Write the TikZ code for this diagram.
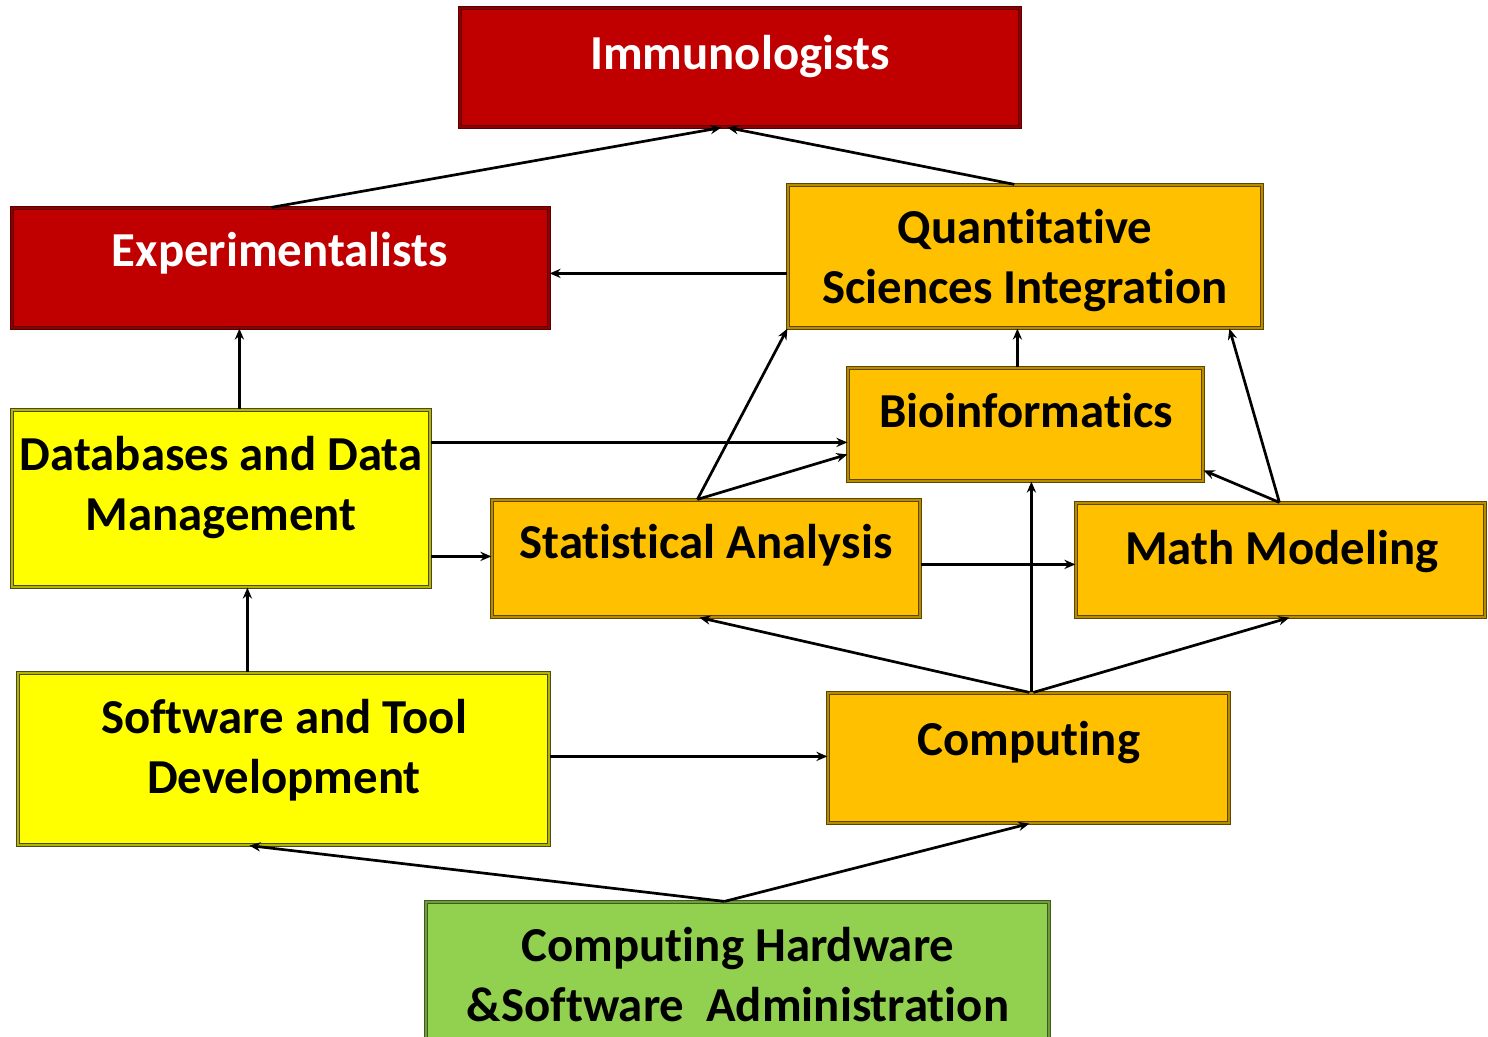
\documentclass[tikz,border=0pt]{standalone}
\usepackage{fontspec}
\setmainfont[Ligatures=NoCommon]{Carlito}
\usetikzlibrary{arrows.meta,calc,fit}

\definecolor{redfill}{HTML}{C00000}
\definecolor{redline}{HTML}{5A0000}
\definecolor{redstrip}{HTML}{8E0000}
\definecolor{orfill}{HTML}{FFC000}
\definecolor{orline}{HTML}{5C4600}
\definecolor{orstrip}{HTML}{B88A00}
\definecolor{yefill}{HTML}{FFFF00}
\definecolor{yeline}{HTML}{4A4A20}
\definecolor{yestrip}{HTML}{B5B500}
\definecolor{grfill}{HTML}{92D050}
\definecolor{grline}{HTML}{3E5A20}
\definecolor{grstrip}{HTML}{6E9E3C}

\tikzset{
  box/.style={inner sep=0pt, line width=0.6pt, double distance=1.2pt},
  redbox/.style={box, fill=redfill, draw=redline, double=redstrip},
  orbox/.style={box, fill=orfill, draw=orline, double=orstrip},
  yebox/.style={box, fill=yefill, draw=yeline, double=yestrip},
  grbox/.style={box, fill=grfill, draw=grline, double=grstrip},
  lbl/.style={font=\bfseries\fontsize{24.4}{30}\selectfont, align=center, anchor=base, inner sep=0pt},
  wlbl/.style={lbl, text=white},
  link/.style={line width=1.35pt, -{Stealth[length=5.5pt,width=4.6pt]}},
}

\begin{document}
\begin{tikzpicture}[x=0.5pt, y=-0.5pt]
\useasboundingbox (0,0) rectangle (1488,1037);

% boxes
\node[redbox, fit={(460,8) (1020,127)}] (imm) {};
\node[redbox, fit={(12,208) (549,328)}] (exp) {};
\node[orbox, fit={(788,185) (1262,328)}] (qsi) {};
\node[orbox, fit={(848,368) (1203,481)}] (bio) {};
\node[yebox, fit={(12,410) (430,587)}] (db) {};
\node[orbox, fit={(492,500) (920,617)}] (stat) {};
\node[orbox, fit={(1076,503) (1485,617)}] (math) {};
\node[yebox, fit={(18,673) (549,845)}] (soft) {};
\node[orbox, fit={(828,693) (1229,823)}] (comp) {};
\node[grbox, fit={(426,902) (1049,1060)}] (hw) {};

% labels (anchor at the baseline of the last line)
\node[wlbl] (immT) at (740,70) {Immunologists};
\node[wlbl] (expT) at (280,267) {Experimentalists};
\node[lbl] (qsiT) at (1025,304) {Quantitative\\Sciences Integration};
\node[lbl] (bioT) at (1026,428) {Bioinformatics};
\node[lbl] (dbT) at (221,530) {Databases and Data\\Management};
\node[lbl] (statT) at (706,558) {Statistical Analysis};
\node[lbl] (mathT) at (1282,564) {Math Modeling};
\node[lbl] (softT) at (284,793) {Software and Tool\\Development};
\node[lbl] (compT) at (1029,755) {Computing};
\node[lbl] (hwT) at (738,1021) {Computing Hardware\\\&Software~~Administration};

% connectors
\draw[link] ($(exp.north west)+(260,0)$) -- ($(imm.south west)+(262,0)$);
\draw[link] ($(qsi.north west)+(227,0)$) -- ($(imm.south west)+(268,0)$);
\draw[link] ($(qsi.north west)+(0,89)$) -- ($(exp.north east)+(0,66)$);
\draw[link] ($(db.north west)+(228,0)$) -- ($(exp.south west)+(228,0)$);
\draw[link] ($(db.north east)+(0,33)$) -- ($(bio.north west)+(0,75)$);
\draw[link] ($(db.north east)+(0,147)$) -- ($(stat.north west)+(0,57)$);
\draw[link] ($(soft.north west)+(230,0)$) -- ($(db.south west)+(236,0)$);
\draw[link] ($(soft.north east)+(0,84)$) -- ($(comp.north west)+(0,64)$);
\draw[link] ($(hw.north west)+(299,0)$) -- ($(soft.south west)+(232,0)$);
\draw[link] ($(hw.north west)+(299,0)$) -- ($(comp.south west)+(202,0)$);
\draw[link] ($(comp.north west)+(202,0)$) -- ($(stat.south west)+(208,0)$);
\draw[link] ($(comp.north west)+(204,0)$) -- ($(bio.south west)+(184,0)$);
\draw[link] ($(comp.north west)+(206,0)$) -- ($(math.south west)+(214,0)$);
\draw[link] ($(stat.north west)+(206,0)$) -- (qsi.south west);
\draw[link] ($(stat.north west)+(206,0)$) -- ($(bio.north west)+(0,87)$);
\draw[link] ($(stat.north east)+(0,65)$) -- ($(math.north west)+(0,62)$);
\draw[link] ($(bio.north west)+(170,0)$) -- ($(qsi.south west)+(230,0)$);
\draw[link] ($(math.north west)+(204,0)$) -- ($(qsi.south west)+(442,0)$);
\draw[link] ($(math.north west)+(204,0)$) -- ($(bio.north east)+(0,103)$);
\end{tikzpicture}
\end{document}
